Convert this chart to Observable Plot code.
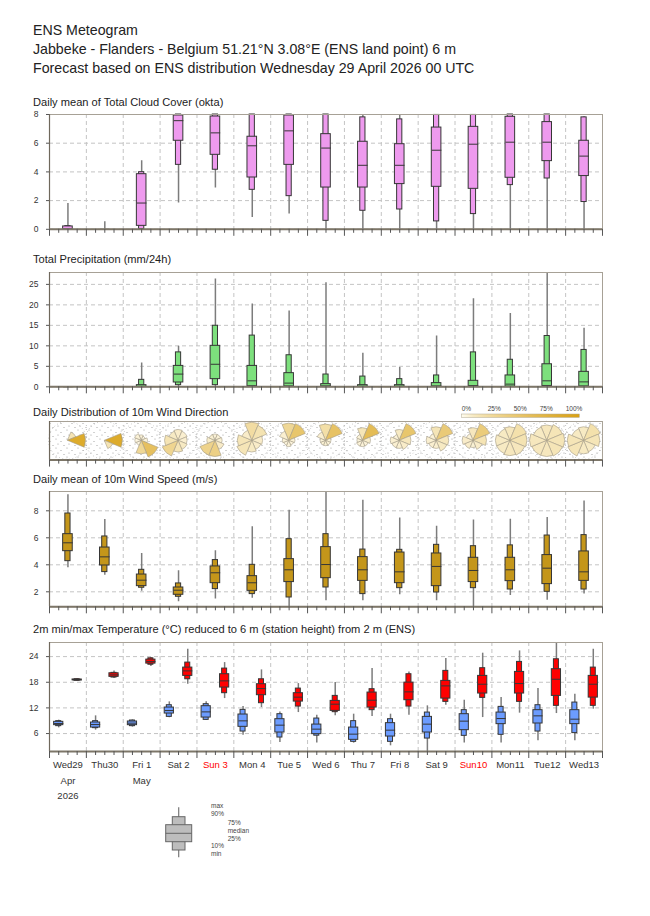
<!DOCTYPE html>
<html><head><meta charset="utf-8">
<script src="https://cdn.jsdelivr.net/npm/d3@7"></script>
<script src="https://cdn.jsdelivr.net/npm/@observablehq/plot@0.6"></script>
<style>
body{margin:0;background:#fff;}
#root{position:relative;width:650px;height:916px;font-family:"Liberation Sans",Arial,sans-serif;color:#222;overflow:hidden;background:#fff}
.t{position:absolute;white-space:nowrap;line-height:1}
#root svg{position:absolute;left:0;overflow:visible}
</style></head><body><div id="root"></div>
<script>
// ---------------- data ----------------
const dayLabels = ["Wed29","Thu30","Fri 1","Sat 2","Sun 3","Mon 4","Tue 5","Wed 6","Thu 7","Fri 8","Sat 9","Sun10","Mon11","Tue12","Wed13"];
const sundayIdx = [4, 11];
const monthLabels = [{i: 0, t: "Apr"}, {i: 2, t: "May"}];
const yearLabels = [{i: 0, t: "2026"}];

// [min, p10, p25, median, p75, p90, max]
const cloudStats = [
 [0,0,0,0,0.2,0.22,1.8],
 [0,0,0,0,0,0,0.52],
 [0,0.02,0.24,1.83,3.84,3.98,4.77],
 [1.83,4.49,6.17,7.57,7.93,8,8],
 [2.87,4.15,5.19,6.72,7.86,8,8],
 [0.82,2.75,3.61,5.82,6.45,8,8],
 [1.06,2.31,4.49,6.86,7.93,8,8],
 [0,0.59,2.91,5.66,6.63,8,8],
 [0,1.29,2.91,4.46,6.1,7.8,8],
 [0,1.38,3.15,4.46,5.93,7.66,8],
 [0,0.55,2.96,5.51,7.09,7.97,8],
 [0,1.06,2.82,5.93,7.14,7.97,8],
 [0,3.08,3.59,6.07,7.84,8,8],
 [0,3.54,4.75,6.07,7.47,8,8],
 [0,1.9,3.71,5.1,6.17,7.8,7.85]
];
const precipStats = [
 [0,0,0,0,0,0,0],
 [0,0,0,0,0,0,0],
 [0,0,0,0.05,0.4,1.7,5.8],
 [0,0.4,1.05,3.1,5.1,8.4,9.9],
 [0,0.4,1.87,5.5,10.0,14.9,26.3],
 [0,0,0.15,1.46,5.1,12.5,20.2],
 [0,0,0.1,0.9,3.33,7.7,18.5],
 [0,0,0,0.2,0.65,3.0,25.4],
 [0,0,0,0.1,0.4,2.5,8.2],
 [0,0,0,0.1,0.4,1.87,4.7],
 [0,0,0,0.2,0.9,2.77,12.4],
 [0,0,0.05,0.3,1.46,8.4,21.5],
 [0,0,0.05,0.65,2.77,6.6,17.9],
 [0,0,0.2,1.46,5.5,12.4,28],
 [0,0,0.1,1.2,3.65,9.0,14.3]
];
const windSpeedStats = [
 [3.78,4.27,5.01,5.63,6.27,7.8,9.19],
 [3.23,3.46,3.95,4.59,5.28,6.1,7.36],
 [2.05,2.3,2.42,2.86,3.28,3.63,4.84],
 [1.26,1.63,1.78,2.12,2.32,2.62,3.56],
 [1.46,2.2,2.64,3.41,3.88,4.35,5.04],
 [1.53,1.83,2.07,2.67,3.16,4.0,6.81],
 [0.9,1.58,2.72,3.63,4.42,5.9,8.05],
 [1.33,2.32,3.01,4.02,5.31,6.27,9.43],
 [1.33,1.83,2.81,3.63,4.57,5.13,8.79],
 [1.78,2.27,2.64,3.48,4.91,5.11,7.46],
 [1.33,1.95,2.42,3.88,4.84,5.48,6.86],
 [0.89,2.27,2.72,3.58,4.52,5.38,7.31],
 [1.73,2.17,2.79,3.63,4.52,5.44,7.38],
 [1.38,2.0,2.57,3.75,4.72,6.17,7.51],
 [1.83,2.17,2.81,3.48,4.99,6.2,8.72]
];
const tMinStats = [
 [7.33,7.73,7.96,8.34,8.74,8.9,9.13],
 [6.79,7.26,7.4,8.1,8.58,8.9,10.14],
 [7.5,7.73,7.96,8.43,8.82,9.05,9.2],
 [9.7,9.9,10.68,11.38,12.08,12.63,13.41],
 [9.04,9.2,9.74,11.07,12.4,12.87,13.41],
 [5.63,6.47,7.57,8.97,10.45,11.54,12.31],
 [3.9,5.07,6.24,7.96,9.36,10.53,11.07],
 [3.76,5.5,5.86,7.03,8.1,9.51,10.3],
 [3.76,4.06,4.53,5.86,7.4,8.9,10.53],
 [3.13,4.06,5.3,6.79,8.43,9.36,10.53],
 [1.8,4.83,6.24,8.2,9.9,10.91,12.48],
 [3.76,5.46,6.79,8.9,10.53,11.47,13.8],
 [3.76,5.7,8.2,9.51,10.91,12.24,14.41],
 [4.3,6.47,8.35,10.14,11.47,12.63,16.52],
 [4.3,6.1,8.2,9.36,11.47,13.25,15.2]
];
const tMaxStats = [
 [18.3,18.35,18.45,18.55,18.65,18.7,18.8],
 [18.86,19.1,19.26,19.72,20.1,20.2,20.66],
 [21.66,22.1,22.36,22.83,23.3,23.6,23.77],
 [17.54,18.7,19.49,20.66,21.43,22.6,25.72],
 [14.18,15.44,16.76,18.32,19.88,21.2,22.6],
 [12.08,13.1,14.97,16.52,17.54,18.7,20.89],
 [10.91,12.31,13.48,14.51,15.44,16.52,17.69],
 [10.14,11.0,11.3,12.87,13.64,14.81,17.92],
 [9.98,11.47,12.08,13.8,15.59,16.38,21.2],
 [10.3,12.31,13.8,15.75,17.92,19.88,20.42],
 [12.63,13.41,14.18,17.15,18.32,20.66,23.53],
 [9.74,14.34,15.36,17.54,19.49,21.29,24.8],
 [10.77,13.41,15.36,17.69,20.42,22.76,25.33],
 [10.68,12.48,14.81,18.7,21.05,23.38,27.3],
 [11.7,12.48,14.41,17.54,19.49,21.43,25.72]
];
// wind direction sectors: N, NE, E, SE, S, SW, W, NW
const windDirLen = [
 [0,0.5,1.0,0,0,0,0,0],
 [0,0,1.0,0.5,0,0,0,0],
 [0.3,0.25,0.35,1.0,0.75,0.3,0.35,0.4],
 [0.6,0.55,0.5,0.55,0.65,0.95,0.75,0.55],
 [0.35,0.35,0.4,0.55,0.9,0.9,0.45,0.35],
 [1.0,0.9,0.6,0.55,0.65,0.9,0.8,0.6],
 [0.95,1.0,0.35,0.3,0.35,0.3,0.35,0.55],
 [0.9,1.0,0.3,0.3,0.3,0.3,0.3,0.5],
 [0.7,1.0,0.45,0.35,0.35,0.35,0.3,0.35],
 [0.6,1.0,0.65,0.55,0.45,0.45,0.5,0.35],
 [0.75,1.0,0.7,0.65,0.45,0.45,0.55,0.4],
 [0.7,1.0,0.75,0.55,0.4,0.5,0.6,0.4],
 [0.75,1.0,0.95,0.9,0.85,0.8,0.8,0.7],
 [0.85,0.95,1.0,0.95,0.9,0.9,0.95,0.8],
 [0.75,1.0,0.9,0.7,0.75,0.95,0.9,0.7]
];
const windDirFreq = [
 [0,15,85,0,0,0,0,0],
 [0,0,85,15,0,0,0,0],
 [4,2,3,55,28,2,2,4],
 [8,6,6,10,15,30,15,10],
 [4,4,5,8,35,32,7,5],
 [22,16,8,8,10,14,14,8],
 [28,48,4,3,4,3,4,6],
 [20,52,4,4,5,5,4,6],
 [14,60,7,4,4,4,3,4],
 [10,48,12,8,6,6,6,4],
 [14,42,12,10,6,6,6,4],
 [12,40,15,8,5,8,8,4],
 [12,18,16,12,12,10,10,10],
 [12,14,14,14,12,12,12,10],
 [10,18,14,10,10,14,14,10]
];
const freqLegendTicks = [0, 25, 50, 75, 100];
const boxLegendLabels = [
 {t: "max", col: 0, row: 0}, {t: "90%", col: 0, row: 1},
 {t: "75%", col: 1, row: 2}, {t: "median", col: 1, row: 3}, {t: "25%", col: 1, row: 4},
 {t: "10%", col: 0, row: 5}, {t: "min", col: 0, row: 6}
];

// ---------------- helpers ----------------
const root = document.getElementById("root");
const FONT = "Liberation Sans, Arial, sans-serif";
const ML = 49, MR = 48, W = 650;
const PPD = (W - ML - MR) / 15;
const toRows = s => s.map((v, i) => ({i, min: v[0], p10: v[1], p25: v[2], med: v[3], p75: v[4], p90: v[5], max: v[6]}));
const freqColor = d3.scalePow().exponent(0.7).domain([0, 100]).range(["#fffcee", "#d9a114"]).interpolate(d3.interpolateRgb);

function addText(txt, x, baseline, size, color = "#222") {
  const d = document.createElement("div");
  d.className = "t";
  d.style.left = x + "px";
  d.style.top = (baseline - 0.8465 * size) + "px";
  d.style.fontSize = size + "px";
  d.style.color = color;
  d.textContent = txt;
  root.appendChild(d);
}

function boxMarks(rows, pos, fill, {wide = 9.6, narrow = 5.2} = {}) {
  const hw = wide / 2 / PPD, hn = narrow / 2 / PPD;
  return [
    Plot.ruleX(rows, {x: pos, y1: "min", y2: "max", stroke: "#7c7c7c", strokeWidth: 1.5, clip: true}),
    Plot.rect(rows, {x1: d => pos(d) - hn, x2: d => pos(d) + hn, y1: "p10", y2: "p90", fill, stroke: "#363636", strokeWidth: 1}),
    Plot.rect(rows, {x1: d => pos(d) - hw, x2: d => pos(d) + hw, y1: "p25", y2: "p75", fill, stroke: "#363636", strokeWidth: 1}),
    Plot.link(rows, {x1: d => pos(d) - hw, x2: d => pos(d) + hw, y1: "med", y2: "med", stroke: "#363636", strokeWidth: 1})
  ];
}

function panel({frameTop, frameBottom, yDomain, yTicks, mb = 12, marks, gridDash = "4,3"}) {
  const mt = 10;
  const h = frameBottom - frameTop + mt + mb;
  const svg = Plot.plot({
    width: W, height: h,
    marginLeft: ML, marginRight: MR, marginTop: mt, marginBottom: mb,
    x: {domain: [0, 15]},
    y: {domain: yDomain},
    style: {fontFamily: FONT, fontSize: "8.5px", color: "#333", background: "transparent", overflow: "visible"},
    marks: [
      yTicks.length ? Plot.gridY({ticks: yTicks, stroke: "#c4c4c4", strokeOpacity: 1, strokeDasharray: gridDash}) : null,
      Plot.gridX({ticks: d3.range(1, 15), stroke: "#c4c4c4", strokeOpacity: 1, strokeDasharray: gridDash}),
      ...marks,
      Plot.frame({stroke: "#a7a196"}),
      Plot.ruleX([0], {stroke: "#6f685c", strokeWidth: 1.2}),
      Plot.ruleY([yDomain[0]], {stroke: "#7d7668", strokeWidth: 2}),
      Plot.axisX({ticks: d3.range(0, 15.001, 1), tickSize: 7, tickFormat: () => "", stroke: "#555", label: null}),
      Plot.axisX({ticks: d3.range(0, 15, 0.25).filter(v => v % 1 !== 0), tickSize: 4, tickFormat: () => "", stroke: "#555", label: null}),
      yTicks.length ? Plot.axisY({ticks: yTicks, tickSize: 3, tickPadding: 8, tickFormat: d => String(d), stroke: "#555", label: null}) : Plot.axisY({ticks: [], label: null})
    ]
  });
  svg.style.top = (frameTop - mt) + "px";
  root.appendChild(svg);
  return svg;
}

// wind rose custom mark (uses Plot's x scale)
const RMAX = 18;
function roseMark(index, scales, values, dim) {
  const g = d3.create("svg:g");
  const x0 = dim.marginLeft, y0 = dim.marginTop;
  const w = dim.width - dim.marginLeft - dim.marginRight;
  const h = dim.height - dim.marginTop - dim.marginBottom;
  const pat = g.append("defs").append("pattern").attr("id", "stipple")
    .attr("width", 11).attr("height", 9).attr("patternUnits", "userSpaceOnUse");
  [[1,1],[6,3.5],[3,6],[9,7.5]].forEach(([a, b]) =>
    pat.append("circle").attr("cx", a).attr("cy", b).attr("r", 0.6).attr("fill", "#999"));
  g.append("rect").attr("x", x0).attr("y", y0).attr("width", w).attr("height", h).attr("fill", "url(#stipple)");
  const cy = y0 + h / 2;
  const arc = d3.arc().innerRadius(0);
  windDirLen.forEach((lens, i) => {
    const cx = scales.x(i + 0.5);
    g.append("circle").attr("cx", cx).attr("cy", cy).attr("r", RMAX + 1)
      .attr("fill", "none").attr("stroke", "#a8a8a8").attr("stroke-width", 0.8).attr("stroke-dasharray", "0.8,2.6");
    lens.forEach((len, k) => {
      if (!len) return;
      const a = k * Math.PI / 4;
      g.append("path").attr("transform", `translate(${cx},${cy})`)
        .attr("d", arc({outerRadius: len * RMAX, startAngle: a - Math.PI / 8, endAngle: a + Math.PI / 8}))
        .attr("fill", freqColor(windDirFreq[i][k]))
        .attr("stroke", "#a39a86").attr("stroke-width", 0.6);
    });
  });
  return g.node();
}

// ---------------- panels ----------------
const cloudRows = toRows(cloudStats);
panel({frameTop: 113.7, frameBottom: 228.5, yDomain: [0, 8], yTicks: [0, 2, 4, 6, 8],
  marks: boxMarks(cloudRows, d => d.i + 0.5, "#ee9aee")});

const precipRows = toRows(precipStats);
panel({frameTop: 271.7, frameBottom: 386, yDomain: [0, 27.9], yTicks: [0, 5, 10, 15, 20, 25],
  marks: boxMarks(precipRows, d => d.i + 0.5, "#7de07d")});

panel({frameTop: 420.7, frameBottom: 459.3, yDomain: [-1, 1], yTicks: [], gridDash: "1,3",
  marks: [roseMark]});

const windRows = toRows(windSpeedStats);
panel({frameTop: 490.7, frameBottom: 606, yDomain: [0.89, 9.43], yTicks: [2, 4, 6, 8],
  marks: boxMarks(windRows, d => d.i + 0.5, "#c4961a")});

const tMinRows = toRows(tMinStats), tMaxRows = toRows(tMaxStats);
const dayRows = dayLabels.map((t, i) => ({i, t, sun: sundayIdx.includes(i)}));
panel({frameTop: 641.7, frameBottom: 750.7, yDomain: [1.8, 27.3], yTicks: [6, 12, 18, 24], mb: 60,
  marks: [
    ...boxMarks(tMinRows, d => d.i + 0.25, "#6c9cff", {wide: 9.2, narrow: 5}),
    ...boxMarks(tMaxRows, d => d.i + 0.75, "#ff0000", {wide: 9.2, narrow: 5}),
    Plot.text(dayRows.filter(d => !d.sun), {x: d => d.i + 0.5, text: "t", frameAnchor: "bottom", dy: 16, fill: "#333", fontSize: 9.5}),
    Plot.text(dayRows.filter(d => d.sun), {x: d => d.i + 0.5, text: "t", frameAnchor: "bottom", dy: 16, fill: "#ff0000", fontSize: 9.5}),
    Plot.text(monthLabels, {x: d => d.i + 0.5, text: "t", frameAnchor: "bottom", dy: 32, fill: "#333", fontSize: 9.5}),
    Plot.text(yearLabels, {x: d => d.i + 0.5, text: "t", frameAnchor: "bottom", dy: 47, fill: "#333", fontSize: 9.5})
  ]});

// ---------------- wind direction colour legend ----------------
(() => {
  const svg = d3.create("svg").attr("width", 130).attr("height", 20)
    .style("top", "401px").style("left", "455px").style("font-family", FONT);
  const bx = 6.7, by = 13, bw = 117.6, bh = 3.4;
  const grad = svg.append("defs").append("linearGradient").attr("id", "freqgrad");
  d3.range(0, 101, 10).forEach(p => grad.append("stop").attr("offset", p + "%").attr("stop-color", freqColor(p)));
  svg.append("rect").attr("x", bx).attr("y", by).attr("width", bw).attr("height", bh)
    .attr("fill", "url(#freqgrad)").attr("stroke", "#b0a890").attr("stroke-width", 0.5);
  const lx = d3.scaleLinear().domain([0, 100]).range([bx, bx + 104]);
  svg.selectAll("text").data(freqLegendTicks).join("text")
    .attr("x", d => lx(d)).attr("y", 9.5).attr("font-size", 6.5).attr("fill", "#444")
    .text(d => d + "%");
  root.appendChild(svg.node());
})();

// ---------------- box legend ----------------
(() => {
  const svg = d3.create("svg").attr("width", 120).attr("height", 70)
    .style("top", "800px").style("left", "150px").style("font-family", FONT);
  const cx = 28.7;
  svg.append("line").attr("x1", cx).attr("x2", cx).attr("y1", 7.3).attr("y2", 57.3).attr("stroke", "#777").attr("stroke-width", 1.2);
  svg.append("rect").attr("x", 22.3).attr("y", 16.7).attr("width", 12.7).attr("height", 33.3).attr("fill", "#bdbdbd").attr("stroke", "#666");
  svg.append("rect").attr("x", 15.7).attr("y", 24.7).attr("width", 26).attr("height", 17).attr("fill", "#bdbdbd").attr("stroke", "#666");
  svg.append("line").attr("x1", 15.7).attr("x2", 41.7).attr("y1", 33.3).attr("y2", 33.3).attr("stroke", "#666");
  const colX = [61, 77.7];
  const rowY = [5.7, 13.5, 22.3, 30.7, 38.5, 45.7, 53.5];
  svg.selectAll("text").data(boxLegendLabels).join("text")
    .attr("x", d => colX[d.col]).attr("y", d => rowY[d.row] + 2.3)
    .attr("font-size", 6.5).attr("fill", "#444").text(d => d.t);
  root.appendChild(svg.node());
})();

// ---------------- titles ----------------
addText("ENS Meteogram", 33, 35, 14.2);
addText("Jabbeke - Flanders - Belgium 51.21°N 3.08°E (ENS land point) 6 m", 33, 54, 14.2);
addText("Forecast based on ENS distribution Wednesday 29 April 2026 00 UTC", 33, 73.5, 14.2);
addText("Daily mean of Total Cloud Cover (okta)", 33, 106.3, 11.1);
addText("Total Precipitation (mm/24h)", 33, 263, 11.1);
addText("Daily Distribution of 10m Wind Direction", 33, 416.3, 11.1);
addText("Daily mean of 10m Wind Speed (m/s)", 33, 483, 11.1);
addText("2m min/max Temperature (°C) reduced to 6 m (station height) from 2 m (ENS)", 33, 633, 11.1);
</script>
</body></html>
